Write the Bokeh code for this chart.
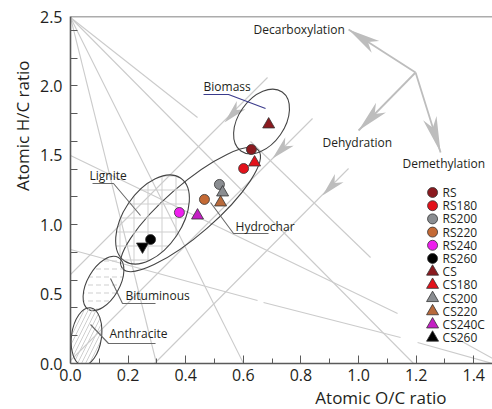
import math
from bokeh.plotting import figure
from bokeh.models import Range1d, FixedTicker, Span, PrintfTickFormatter, Title
from bokeh.embed import file_html
from bokeh.resources import INLINE
from bokeh.core.properties import value

# ---------------- data ----------------
rs_labels = ["RS", "RS180", "RS200", "RS220", "RS240", "RS260"]
rs_oc = [0.628, 0.601, 0.517, 0.465, 0.378, 0.278]
rs_hc = [1.542, 1.405, 1.290, 1.182, 1.088, 0.893]
rs_colors = ["#8b1a1f", "#e3121b", "#8a8d91", "#c46a35", "#ee1fee", "#000000"]

cs_labels = ["CS", "CS180", "CS200", "CS220", "CS240C", "CS260"]
cs_oc = [0.688, 0.639, 0.528, 0.521, 0.441, 0.250]
cs_hc = [1.722, 1.448, 1.232, 1.160, 1.066, 0.843]
cs_colors = ["#8b1a1f", "#e3121b", "#8a8d91", "#b86a3c", "#c41fc4", "#000000"]
cs_markers = ["triangle", "triangle", "triangle", "triangle", "triangle", "inverted_triangle"]

x_ticks = [0.0, 0.2, 0.4, 0.6, 0.8, 1.0, 1.2, 1.4]
x_minor = [0.1, 0.3, 0.5, 0.7, 0.9, 1.1, 1.3]
y_ticks = [0.0, 0.5, 1.0, 1.5, 2.0, 2.5]
y_minor = [0.2, 0.4, 0.6, 0.8, 1.0, 1.2, 1.4, 1.6, 1.8, 2.0, 2.2, 2.4]

FONT = "Open Sans"
TXT = "#231f20"

# layout helpers (screen pixel -> data) for decorations only
X0, XS, Y0, YS = 70.0, 288.0, 363.0, 138.8
def dx(px):
    return (px - X0) / XS
def dy(py):
    return (Y0 - py) / YS

p = figure(width=492, height=409, x_range=Range1d(0, 1.465), y_range=Range1d(0, 2.5),
           output_backend="svg", toolbar_location=None,
           min_border_left=70, min_border_right=0, min_border_top=16, min_border_bottom=46)
p.grid.visible = False
p.outline_line_color = None
p.background_fill_color = "white"
p.border_fill_color = "white"

AX = "#5a5a5a"
p.xaxis.ticker = FixedTicker(ticks=x_ticks, minor_ticks=x_minor)
p.xaxis.formatter = PrintfTickFormatter(format="%.1f")
p.xaxis.axis_line_color = AX
p.xaxis.axis_line_width = 1.6
p.xaxis.major_tick_line_color = AX
p.xaxis.minor_tick_line_color = AX
p.xaxis.major_tick_in = 8
p.xaxis.major_tick_out = 0
p.xaxis.minor_tick_in = 5
p.xaxis.minor_tick_out = 0
p.xaxis.major_label_standoff = 5

p.yaxis.ticker = FixedTicker(ticks=y_ticks, minor_ticks=y_minor)
p.yaxis.formatter = PrintfTickFormatter(format="%.1f")
p.yaxis.axis_line_color = AX
p.yaxis.axis_line_width = 1.6
p.yaxis.major_tick_line_color = None
p.yaxis.minor_tick_line_color = AX
p.yaxis.major_tick_in = 0
p.yaxis.major_tick_out = 0
p.yaxis.minor_tick_in = 7
p.yaxis.minor_tick_out = 0
p.yaxis.major_label_standoff = 8

for ax in (p.xaxis, p.yaxis):
    ax.major_label_text_font = FONT
    ax.major_label_text_font_size = "16px"
    ax.major_label_text_color = TXT

p.add_layout(Span(location=2.5, dimension="width", line_color=AX, line_width=1.4))

# axis titles placed as side titles so they can sit off-centre like the original
p.add_layout(Title(text="Atomic O/C ratio", align="right", offset=46, standoff=0,
                   text_font=FONT, text_font_size="17px", text_font_style="normal",
                   text_color=TXT), "below")
p.add_layout(Title(text="Atomic H/C ratio", align="right", offset=44, standoff=6,
                   text_font=FONT, text_font_size="17px", text_font_style="normal",
                   text_color=TXT), "left")

# ---------------- background guide lines ----------------
GL = "#cbcbcb"
bg_px = [
    ((70, 17), (156, 363)),
    ((70, 17), (243, 363)),
    ((70, 17), (197, 117)),
    ((70, 17), (413, 363)),
    ((70, 155), (397, 313)),
    ((70, 249), (257, 300)),
    ((263, 302), (400, 337)),
    ((250, 141), (370, 257)),
    ((417, 342), (492, 363)),
    ((456, 338), (492, 358)),
    ((267, 77), (70, 274)),
    ((312, 118), (70, 360)),
    ((348, 168), (154, 363)),
]
p.segment(x0=[dx(a[0]) for a, b in bg_px], y0=[dy(a[1]) for a, b in bg_px],
          x1=[dx(b[0]) for a, b in bg_px], y1=[dy(b[1]) for a, b in bg_px],
          line_color=GL, line_width=1.1)

def head(tip, frm, L, w, notch=0.72):
    ux, uy = tip[0] - frm[0], tip[1] - frm[1]
    n = math.hypot(ux, uy)
    ux, uy = ux / n, uy / n
    nx, ny = -uy, ux
    bx, by = tip[0] - L * ux, tip[1] - L * uy
    pts = [tip,
           (bx + w * nx, by + w * ny),
           (tip[0] - notch * L * ux, tip[1] - notch * L * uy),
           (bx - w * nx, by - w * ny)]
    return [dx(q[0]) for q in pts], [dy(q[1]) for q in pts]

AR = "#bdbdbd"
origin = (415, 72)
main_tips = [(348, 29), (358, 130), (440, 152)]
p.segment(x0=[dx(origin[0])] * 3, y0=[dy(origin[1])] * 3,
          x1=[dx(t[0]) for t in main_tips], y1=[dy(t[1]) for t in main_tips],
          line_color=AR, line_width=1.8)
hx, hy = [], []
for t, L in zip(main_tips, [32, 32, 36]):
    a, b = head(t, origin, L, 7)
    hx.append(a); hy.append(b)
chev = [((224, 122), (267, 77)), ((272, 158), (312, 118)), ((322, 195), (348, 168))]
for t, f in chev:
    a, b = head(t, f, 24, 6)
    hx.append(a); hy.append(b)
p.patches(hx, hy, fill_color=AR, line_color=None)

# ---------------- region ellipses ----------------
EL = "#454545"
ell = [  # cx, cy, a, b, angle, hatch
    (261, 121, 36, 23, 55, None),
    (190, 209, 90, 25, 41, None),
    (152, 219, 50, 29, 56, "+"),
    (103, 283, 30, 16, 60, "horizontal_dash"),
    (86, 336, 29, 15, 82, "right_diagonal_line"),
]
for cx, cy, a, b, ang, hatch in ell:
    kw = {}
    if hatch:
        kw = dict(hatch_pattern=hatch, hatch_color="#cfcfcf", hatch_weight=1,
                  hatch_scale=14 if hatch == "+" else 8)
    p.ellipse(x=[dx(cx)], y=[dy(cy)], width=2 * a, height=2 * b, angle=math.radians(ang),
              width_units="screen", height_units="screen",
              fill_color=None, line_color=EL, line_width=1.1, **kw)

# pointer lines
ptr = [
    [(92, 183), (113, 183), (140, 215)],
    [(210, 202), (233, 233), (268, 233)],
    [(110, 278), (122, 303), (155, 303)],
    [(90, 324), (108, 343), (155, 343)],
]
p.multi_line([[dx(q[0]) for q in l] for l in ptr], [[dy(q[1]) for q in l] for l in ptr],
             line_color="#6a6a6a", line_width=1.1)
bio = [(203, 94), (228, 94), (265, 108)]
p.line([dx(q[0]) for q in bio], [dy(q[1]) for q in bio], line_color="#3b3b8c", line_width=1.1)

# region / process labels
labels = [("Decarboxylation", 253, 29), ("Dehydration", 322, 142), ("Demethylation", 402, 163),
          ("Biomass", 203, 86), ("Lignite", 89, 175), ("Hydrochar", 235, 226),
          ("Bituminous", 125, 295), ("Anthracite", 109, 333)]
p.text(x=[dx(l[1]) for l in labels], y=[dy(l[2]) for l in labels], text=[l[0] for l in labels],
       text_font=value(FONT), text_font_size="12px", text_color=TXT,
       text_align="left", text_baseline="middle")

# ---------------- data points ----------------
p.scatter(rs_oc, rs_hc, marker="circle", size=10, fill_color=rs_colors,
          line_color="#333333", line_width=0.8)
p.scatter(cs_oc, cs_hc, marker=cs_markers, size=12, fill_color=cs_colors,
          line_color="#333333", line_width=0.8)

# ---------------- legend (manual) ----------------
leg_labels = rs_labels + cs_labels
leg_colors = rs_colors + cs_colors
leg_markers = ["circle"] * 6 + ["triangle"] * 6
rows = [192 + 13.2 * i for i in range(12)]
p.scatter([dx(432)] * 12, [dy(r) for r in rows], marker=leg_markers,
          size=[10] * 6 + [12] * 6, fill_color=leg_colors, line_color="#333333", line_width=0.8)
p.text(x=[dx(442)] * 12, y=[dy(r) for r in rows], text=leg_labels,
       text_font=value(FONT), text_font_size="12px", text_color=TXT,
       text_align="left", text_baseline="middle")

open("out.html", "w").write(file_html(p, INLINE))
